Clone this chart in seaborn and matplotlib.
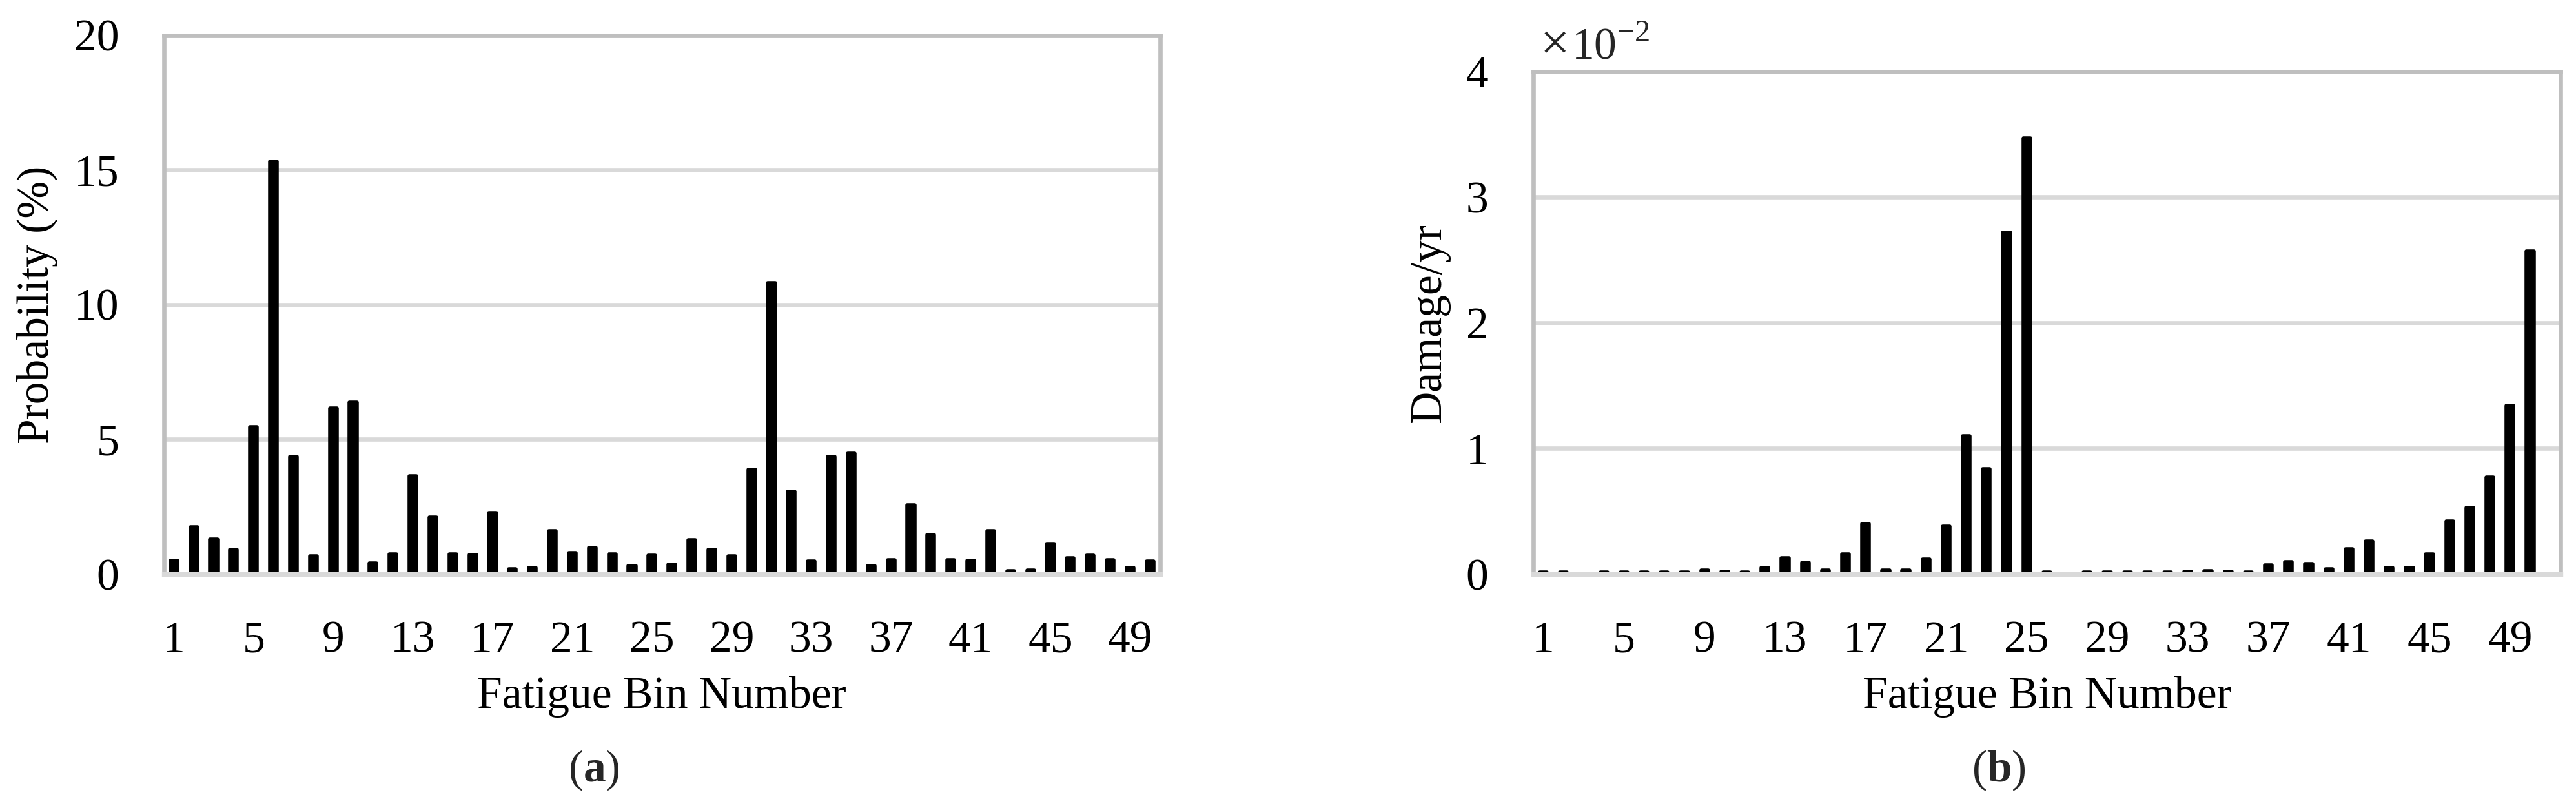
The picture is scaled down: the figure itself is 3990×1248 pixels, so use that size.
import numpy as np
import pandas as pd
import matplotlib
matplotlib.use("Agg")
import matplotlib.pyplot as plt
import seaborn as sns

# fatigue bins 1..50
bins = list(range(1, 51))

# (a) probability of each bin, in %
probability = [0.50, 1.76, 1.29, 0.91, 5.47, 15.32, 4.35, 0.68, 6.16, 6.38,
               0.41, 0.75, 3.64, 2.10, 0.75, 0.72, 2.27, 0.18, 0.23, 1.60,
               0.79, 0.99, 0.75, 0.31, 0.70, 0.37, 1.26, 0.92, 0.66, 3.88,
               10.81, 3.07, 0.47, 4.35, 4.49, 0.30, 0.52, 2.56, 1.47, 0.52,
               0.50, 1.60, 0.12, 0.15, 1.13, 0.59, 0.70, 0.53, 0.23, 0.47]

# (b) damage per year, in units of 1e-2
damage = [0.015, 0.015, 0.0, 0.015, 0.015, 0.015, 0.015, 0.015, 0.03, 0.02,
          0.015, 0.05, 0.13, 0.09, 0.03, 0.16, 0.40, 0.03, 0.03, 0.12,
          0.38, 1.10, 0.84, 2.72, 3.47, 0.015, 0.0, 0.015, 0.015, 0.015,
          0.015, 0.015, 0.02, 0.025, 0.02, 0.015, 0.07, 0.10, 0.08, 0.04,
          0.20, 0.26, 0.05, 0.05, 0.16, 0.42, 0.53, 0.77, 1.34, 2.57]

tick_labels = [str(b) for b in bins[::4]]

sns.set_theme(style="white")
plt.rcParams["font.family"] = ["Liberation Serif", "DejaVu Serif"]
plt.rcParams["mathtext.fontset"] = "custom"
plt.rcParams["mathtext.rm"] = "Liberation Serif"
plt.rcParams["mathtext.bf"] = "Liberation Serif:bold"

FS = 50
SPINE = "#bfbfbf"
GRID = "#d9d9d9"
LW = 4.8

fig = plt.figure(figsize=(39.91, 12.48), dpi=100)
ax1 = fig.add_axes([0.0636, 0.2877, 0.3866, 0.6686])
ax2 = fig.add_axes([0.5951, 0.2877, 0.3986, 0.6234])


def style_axes(ax, values, ymax, yticks, ylabel, xmax):
    df = pd.DataFrame({"bin": bins, "value": values})
    sns.barplot(data=df, x="bin", y="value", color="black", saturation=1,
                width=0.36, edgecolor="black", linewidth=4, ax=ax)
    for p in ax.patches:
        p.set_joinstyle("round")
        if p.get_height() == 0:
            p.set_visible(False)
    ax.set_xlim(-0.5, xmax)
    ax.set_ylim(0, ymax)
    ax.set_yticks(yticks)
    ax.set_yticklabels([str(t) for t in yticks])
    ax.set_xticks(range(0, 50, 4))
    ax.set_xticklabels(tick_labels)
    ax.tick_params(axis="both", length=0, labelsize=FS, colors="black")
    ax.tick_params(axis="y", pad=50)
    ax.tick_params(axis="x", pad=52)
    ax.set_axisbelow(True)
    ax.yaxis.grid(True, color=GRID, linewidth=LW)
    ax.xaxis.grid(False)
    for side in ["left", "right", "top"]:
        ax.spines[side].set_visible(True)
        ax.spines[side].set_color(SPINE)
        ax.spines[side].set_linewidth(LW)
    ax.spines["bottom"].set_color(GRID)
    ax.spines["bottom"].set_linewidth(LW + 0.5)
    ax.set_xlabel("Fatigue Bin Number", fontsize=FS, labelpad=16, color="black")
    ax.set_ylabel(ylabel, fontsize=FS, labelpad=18, color="black")


style_axes(ax1, probability, 20, [0, 5, 10, 15, 20], "Probability (%)", 49.5)
style_axes(ax2, damage, 4, [0, 1, 2, 3, 4], "Damage/yr", 50.5)

# exponent note above panel (b)
fig.text(2386 / 3991, 1 - 91 / 1248, "\u00d7", fontsize=FS + 8, ha="left", va="baseline")
fig.text(2434 / 3991, 1 - 91 / 1248, r"10$^{-2}$", fontsize=FS, ha="left", va="baseline")

# panel captions
fig.text(920 / 3991, 1 - 1210 / 1248, r"($\mathbf{a}$)", fontsize=FS, ha="center", va="baseline")
fig.text(3096 / 3991, 1 - 1210 / 1248, r"($\mathbf{b}$)", fontsize=FS, ha="center", va="baseline")

fig.savefig("out.png", dpi=100, facecolor="white")
